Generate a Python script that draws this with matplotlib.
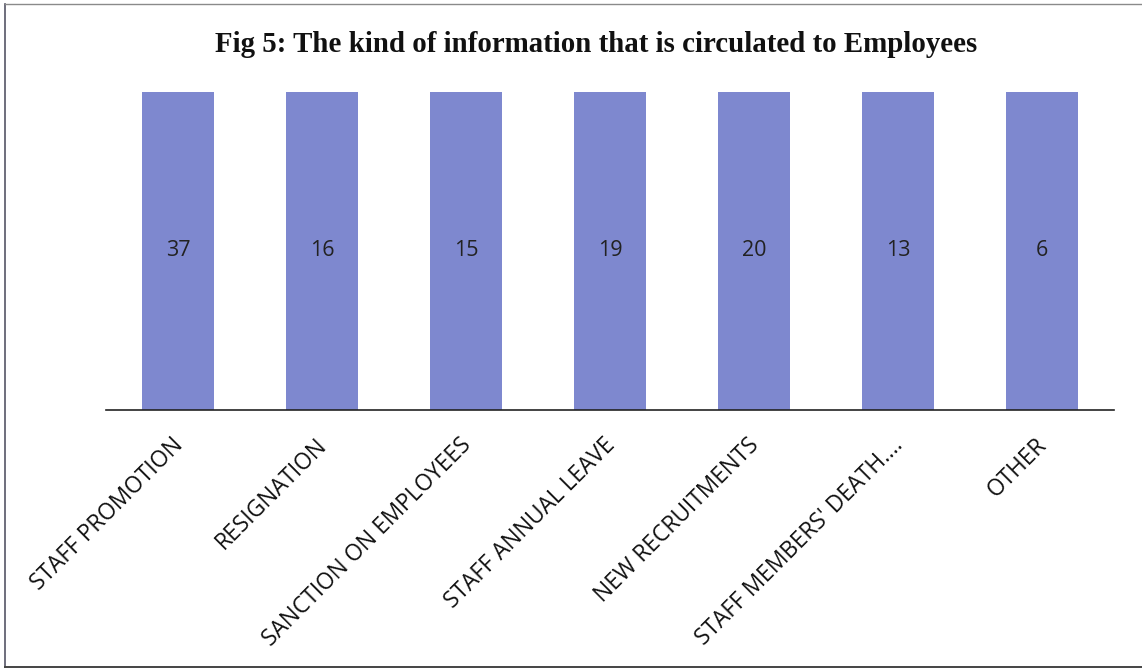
import numpy as np
import matplotlib
matplotlib.use("Agg")
import matplotlib.pyplot as plt
from matplotlib.lines import Line2D
from matplotlib.transforms import ScaledTranslation

categories = [
    "STAFF PROMOTION",
    "RESIGNATION",
    "SANCTION ON EMPLOYEES",
    "STAFF ANNUAL LEAVE",
    "NEW RECRUITMENTS",
    "STAFF MEMBERS' DEATH....",
    "OTHER",
]
counts = [37, 16, 15, 19, 20, 13, 6]
title = "Fig 5: The kind of information that is circulated to Employees"

# 100% column chart: each column shows its own share (always full height)
counts_arr = np.array(counts, dtype=float)
shares = counts_arr / counts_arr

W, H = 1142, 671
fig = plt.figure(figsize=(W / 100, H / 100), dpi=100)
fig.patch.set_facecolor("white")

# outer frame (left, top and bottom edges of the boxed figure)
def px_line(x0, y0, x1, y1, color, lw):
    fig.add_artist(Line2D([x0 / W, x1 / W], [1 - y0 / H, 1 - y1 / H],
                          transform=fig.transFigure, color=color, linewidth=lw))

px_line(5, 4, 5, 667, "#555566", 1.2)
px_line(5, 4, W, 4, "#8a8a8a", 1.0)
px_line(5, 667, W, 667, "#444444", 1.4)

ax = fig.add_axes([106 / W, 1 - 410 / H, 1008 / W, 318 / H])
x = np.arange(len(categories))
ax.bar(x, shares, width=0.5, color="#7e88cf", edgecolor="none")

for xi, s, c in zip(x, shares, counts):
    ax.text(xi, s / 2, str(c), ha="center", va="center",
            fontsize=15.5, family="Open Sans", color="#222222")

ax.set_xlim(-0.5, len(categories) - 0.5)
ax.set_ylim(0, 1.0)
ax.set_xticks(x)
ax.set_xticklabels(categories, rotation=45, ha="right", rotation_mode="anchor",
                   fontsize=16.3, family="Open Sans", color="#111111")
ax.tick_params(axis="x", length=0, pad=14)
# nudge the slanted labels so their ends sit just right of each column centre
nudge = ScaledTranslation(-0.07, -0.035, fig.dpi_scale_trans)
for lbl in ax.get_xticklabels():
    lbl.set_transform(lbl.get_transform() + nudge)
ax.set_yticks([])
for side in ("top", "left", "right"):
    ax.spines[side].set_visible(False)
ax.spines["bottom"].set_color("#222222")
ax.spines["bottom"].set_linewidth(1.2)

fig.text(596 / W, 1 - 44 / H, title, ha="center", va="center",
         fontsize=20.8, fontweight="bold", family="Liberation Serif", color="#111111")

fig.savefig("out.png", dpi=100, facecolor="white")
